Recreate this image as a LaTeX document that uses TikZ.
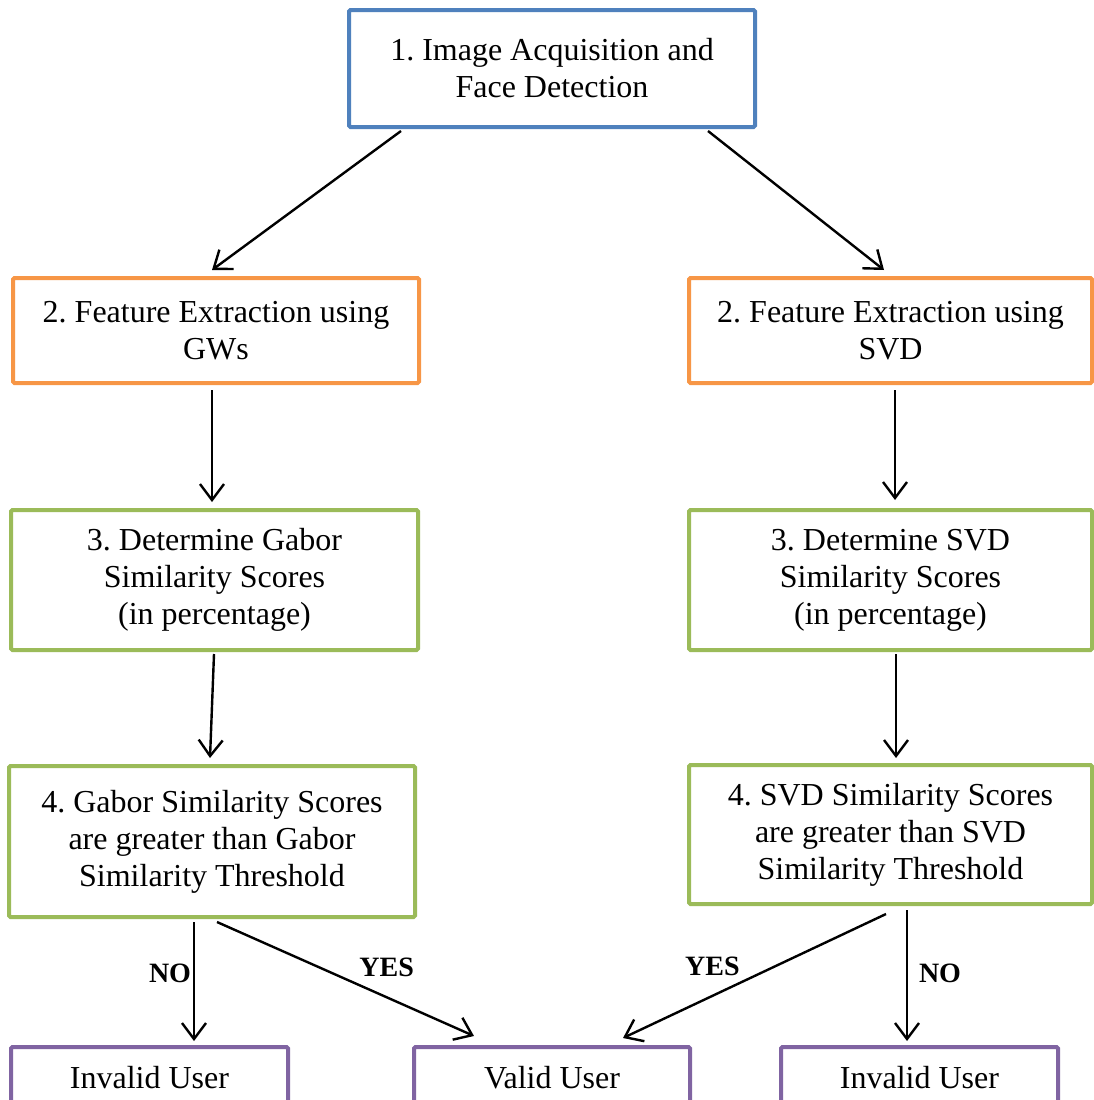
\documentclass[tikz,border=0pt]{standalone}
\usepackage{fontspec}
\setmainfont{Liberation Serif}
\usetikzlibrary{arrows.meta}
\definecolor{cblue}{HTML}{4F81BD}
\definecolor{corange}{HTML}{F79646}
\definecolor{cgreen}{HTML}{9BBB59}
\definecolor{cpurple}{HTML}{8064A2}
\frenchspacing
\begin{document}
\begin{tikzpicture}[x=1pt,y=-1pt,
  box/.style={draw, line width=4pt, rounded corners=1.5pt, fill=white, align=center,
    inner sep=0pt, font=\fontsize{32}{37}\selectfont},
  conn/.style={line width=2.4pt, -{Straight Barb[length=16pt,width=24pt,line width=2.4pt]}},
  lbl/.style={font=\fontsize{28}{30}\selectfont\bfseries, inner sep=0pt}]
\useasboundingbox (0,0) rectangle (1094,1100);
\clip (0,0) rectangle (1094,1100);
\node[box, draw=cblue, minimum width=406pt, minimum height=117pt] (b1) at (552,68.5) {1. Image Acquisition and\\Face Detection};
\node[box, draw=corange, minimum width=406pt, minimum height=105pt] (b2l) at (216,330.5) {2. Feature Extraction using\\GWs};
\node[box, draw=corange, minimum width=403pt, minimum height=105pt] (b2r) at (890.5,330.5) {2. Feature Extraction using\\SVD};
\node[box, draw=cgreen, minimum width=407pt, minimum height=140pt] (b3l) at (214.5,580) {3. Determine Gabor\\Similarity Scores\\(in percentage)};
\node[box, draw=cgreen, minimum width=403pt, minimum height=140pt] (b3r) at (890.5,580) {3. Determine SVD\\Similarity Scores\\(in percentage)};
\node[box, draw=cgreen, minimum width=406pt, minimum height=151pt] (b4l) at (212,841.5) {4. Gabor Similarity Scores\\are greater than Gabor\\Similarity Threshold};
\node[box, draw=cgreen, minimum width=403pt, minimum height=139pt] (b4r) at (890.5,834.5) {4. SVD Similarity Scores\\are greater than SVD\\Similarity Threshold};
\node[box, draw=cpurple, minimum width=277pt, minimum height=62pt] (inv1) at (149.5,1078) {Invalid User};
\node[box, draw=cpurple, minimum width=276pt, minimum height=62pt] (valid) at (552,1078) {Valid User};
\node[box, draw=cpurple, minimum width=277pt, minimum height=62pt] (inv2) at (919.5,1078) {Invalid User};

\draw[conn] ([xshift=-151pt,yshift=-2pt]b1.south) -- ([xshift=-4pt,yshift=6pt]b2l.north);
\draw[conn] ([xshift=156pt,yshift=-2pt]b1.south) -- ([xshift=-6.5pt,yshift=6pt]b2r.north);
\draw[conn] ([xshift=-4pt,yshift=-5pt]b2l.south) -- ([xshift=-2.5pt,yshift=6pt]b3l.north);
\draw[conn] ([xshift=4.5pt,yshift=-5pt]b2r.south) -- ([xshift=4.5pt,yshift=8pt]b3r.north);
\draw[conn] ([xshift=-0.5pt,yshift=-2pt]b3l.south) -- ([xshift=-2pt,yshift=6pt]b4l.north);
\draw[conn] ([xshift=5.5pt,yshift=-2pt]b3r.south) -- ([xshift=5.5pt,yshift=5pt]b4r.north);
\draw[conn] ([xshift=-18pt,yshift=-3pt]b4l.south) -- node[lbl, pos=0.43, xshift=-24pt] {NO} ([xshift=44.5pt,yshift=4pt]inv1.north);
\draw[conn] ([xshift=5pt,yshift=-3pt]b4l.south) -- node[lbl, pos=0.66, yshift=30pt] {YES} ([xshift=-78pt,yshift=9pt]valid.north);
\draw[conn] ([xshift=-4.5pt,yshift=-8pt]b4r.south) -- node[lbl, pos=0.66, yshift=29pt] {YES} ([xshift=71pt,yshift=7pt]valid.north);
\draw[conn] ([xshift=16.5pt,yshift=-4pt]b4r.south) -- node[lbl, pos=0.48, xshift=33pt] {NO} ([xshift=-12.5pt,yshift=4pt]inv2.north);
\end{tikzpicture}
\end{document}
